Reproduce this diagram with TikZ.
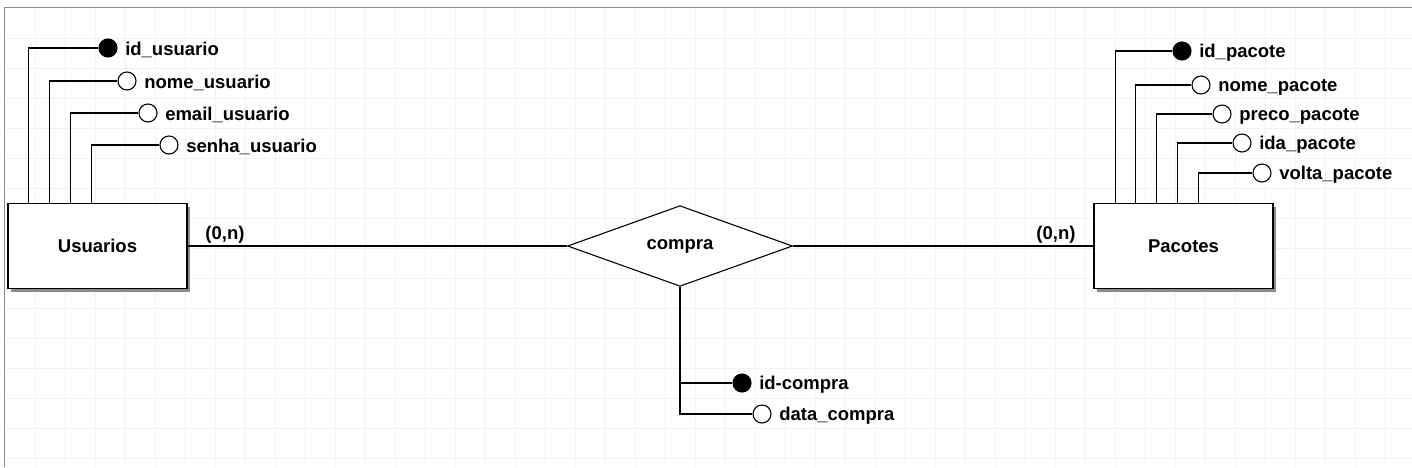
\documentclass[tikz,border=0pt]{standalone}
\usepackage{fontspec}
\setmainfont{Liberation Sans}
\usetikzlibrary{shapes.geometric,shadows}

\definecolor{gridblue}{HTML}{EDF2F9}
\definecolor{framegray}{HTML}{8C8C8C}

\begin{document}
\begin{tikzpicture}[x=1pt,y=-1pt,
    every node/.style={font=\fontsize{18.5}{21}\selectfont\bfseries},
    entity/.style={draw,line width=1.3pt,fill=white,minimum width=179pt,minimum height=85pt,
      drop shadow={shadow xshift=3pt,shadow yshift=-3pt,fill=black!45,opacity=1}},
    rel/.style={draw,diamond,line width=1.1pt,fill=white,minimum width=225pt,minimum height=75pt,inner sep=0pt},
    attr/.style={draw,circle,line width=1.1pt,fill=white,minimum size=18pt,inner sep=0pt},
    key/.style={attr,fill=black},
    lbl/.style={anchor=west,inner sep=0pt,xshift=7.5pt,yshift=-2pt},
    link/.style={line width=1.3pt},
    gridline/.style={gridblue,line width=1pt}]

  % background grid
  \useasboundingbox (0,0) rectangle (1412,467);
  \fill[white] (0,0) rectangle (1412,467);
  \foreach \x in {35,65,...,1405} \draw[gridline] (\x,8) -- (\x,467);
  \foreach \y in {38,68,...,458} \draw[gridline] (5,\y) -- (1412,\y);
  \draw[framegray,line width=1pt] (4,467) -- (4,7) -- (1412,7);

  % entities and relation
  \node[entity] (usuarios) at (97.5,246) {Usuarios};
  \node[entity] (pacotes) at (1183.5,246) {Pacotes};
  \node[rel] (compra) at (680,246) {compra};

  \draw[link] (usuarios.east) -- (compra.west);
  \draw[link] (compra.east) -- (pacotes.west);
  \node (cardu) at (225,235) {(0,n)};
  \node (cardp) at (1056,235) {(0,n)};

  % Usuarios attributes
  \node[key] (idu) at (108,48) {};
  \node[attr] (nomeu) at (127,81) {};
  \node[attr] (emailu) at (148,113) {};
  \node[attr] (senhau) at (169,145) {};
  \node[lbl] at (idu.east) {id\_usuario};
  \node[lbl] at (nomeu.east) {nome\_usuario};
  \node[lbl] at (emailu.east) {email\_usuario};
  \node[lbl] at (senhau.east) {senha\_usuario};
  \draw[link] ([xshift=21pt]usuarios.north west) |- (idu);
  \draw[link] ([xshift=42pt]usuarios.north west) |- (nomeu);
  \draw[link] ([xshift=63pt]usuarios.north west) |- (emailu);
  \draw[link] ([xshift=84pt]usuarios.north west) |- (senhau);

  % Pacotes attributes
  \node[key] (idp) at (1182,51) {};
  \node[attr] (nomep) at (1201,85) {};
  \node[attr] (precop) at (1222,114) {};
  \node[attr] (idap) at (1242,143) {};
  \node[attr] (voltap) at (1262,173) {};
  \node[lbl] at (idp.east) {id\_pacote};
  \node[lbl] at (nomep.east) {nome\_pacote};
  \node[lbl] at (precop.east) {preco\_pacote};
  \node[lbl] at (idap.east) {ida\_pacote};
  \node[lbl] at (voltap.east) {volta\_pacote};
  \draw[link] ([xshift=22pt]pacotes.north west) |- (idp);
  \draw[link] ([xshift=42pt]pacotes.north west) |- (nomep);
  \draw[link] ([xshift=63pt]pacotes.north west) |- (precop);
  \draw[link] ([xshift=84pt]pacotes.north west) |- (idap);
  \draw[link] ([xshift=105pt]pacotes.north west) |- (voltap);

  % compra attributes
  \node[key] (idc) at (742,383) {};
  \node[attr] (datac) at (762,414) {};
  \node[lbl] at (idc.east) {id-compra};
  \node[lbl] at (datac.east) {data\_compra};
  \draw[link] (compra.south) |- (datac);
  \draw[link] (compra.south |- idc) -- (idc);
\end{tikzpicture}
\end{document}
